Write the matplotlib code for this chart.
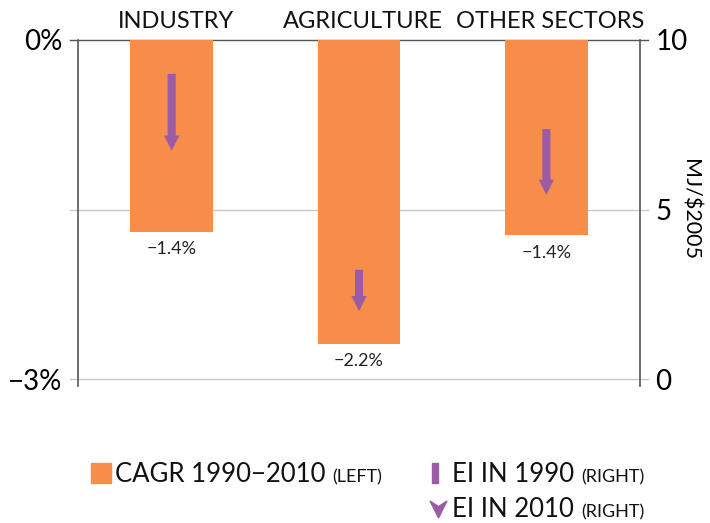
import matplotlib
matplotlib.use("Agg")
import matplotlib.pyplot as plt
from matplotlib.lines import Line2D
from matplotlib.patches import Rectangle
from matplotlib.path import Path

plt.rcParams['font.family'] = ['Lato', 'DejaVu Sans']

# ---- data ----
categories = ["INDUSTRY", "AGRICULTURE", "OTHER SECTORS"]
cagr_bar = [-1.70, -2.69, -1.73]          # bar lengths as drawn (left axis, %)
cagr_labels = ["\u22121.4%", "\u22122.2%", "\u22121.4%"]
ei_1990 = [9.0, 3.22, 7.37]               # right axis, MJ/$2005
ei_2010 = [6.73, 2.0, 5.43]
left_ticks = [-3, 0]
left_ticklabels = ["\u22123%", "0%"]
right_ticks = [0, 5, 10]

ORANGE = "#F68D4A"
PURPLE = "#9B5BA5"
DARK = "#555555"
LIGHT = "#C8C8C8"

W, H = 710, 523
fig = plt.figure(figsize=(W / 100, H / 100), dpi=100)

def fx(px):
    return px / W

def fy(py):
    return 1 - py / H

ax_l, ax_r, ax_t, ax_b = 78, 640, 40, 379
ax = fig.add_axes([fx(ax_l), fy(ax_b), fx(ax_r - ax_l), (ax_b - ax_t) / H])
ax2 = ax.twinx()

x = list(range(len(categories)))
ax.bar(x, cagr_bar, width=0.44, color=ORANGE, zorder=2)
ax.set_xlim(-0.5, 2.5)
ax.set_ylim(-3, 0)
ax2.set_ylim(0, 10)

for a in (ax, ax2):
    for s in a.spines.values():
        s.set_visible(False)
    a.set_xticks([])
    a.tick_params(axis='y', length=0)

ax.set_yticks(left_ticks)
ax.set_yticklabels(left_ticklabels, fontsize=20)
ax.tick_params(axis='y', pad=11)
ax2.set_yticks(right_ticks)
ax2.set_yticklabels([str(t) for t in right_ticks], fontsize=20)
ax2.tick_params(axis='y', pad=11)
ax2.set_ylabel("MJ/$2005", rotation=-90, fontsize=15.5, va='center', ha='center')
ax2.yaxis.set_label_coords((690 - ax_l) / (ax_r - ax_l), 0.5)

ext = 8 / (ax_r - ax_l)
# horizontal reference lines (extend as ticks on both sides)
for yv, col in [(0, DARK), (-3, LIGHT), (-1.5, LIGHT)]:
    ax.plot([-ext, 1 + ext], [yv, yv], transform=ax.get_yaxis_transform(),
            color=col, lw=1, clip_on=False, zorder=1)
# vertical spines
for xa in (0, 1):
    ax.add_line(Line2D([xa, xa], [-0.02, 1.0], transform=ax.transAxes,
                       color=DARK, lw=1.2, clip_on=False, zorder=3))

# value labels
for xi, v, lab in zip(x, cagr_bar, cagr_labels):
    ax.annotate(lab, (xi, v), xytext=(0, -12.5), textcoords='offset points',
                ha='center', va='center', fontsize=13, color='#222222')

# category labels above
for xi, c in zip(x, categories):
    ax.annotate(c, (xi, 1), xycoords=('data', 'axes fraction'),
                xytext=(3, 13), textcoords='offset points',
                ha='center', va='center', fontsize=17, color='#111111')

# arrows (EI 1990 -> EI 2010)
for xi, a0, a1 in zip(x, ei_1990, ei_2010):
    ax2.annotate("", xy=(xi, a1), xytext=(xi, a0),
                 arrowprops=dict(arrowstyle="simple,head_length=11,head_width=11,tail_width=5.8",
                                 mutation_scale=1, color=PURPLE, lw=0,
                                 shrinkA=0, shrinkB=0), zorder=4)

# ---- legend ----
fig.canvas.draw()
renderer = fig.canvas.get_renderer()

def mixed(x0, yc, big, small, bigsize=18.5, smallsize=13):
    t1 = fig.text(fx(x0), fy(yc), big, fontsize=bigsize, va='baseline', ha='left',
                  color='#111111')
    bb = t1.get_window_extent(renderer)
    fig.text(bb.x1 / W + fx(7), fy(yc), small, fontsize=smallsize, va='baseline',
             ha='left', color='#111111')

fig.add_artist(Rectangle((fx(91), fy(483)), fx(20), 20 / H, transform=fig.transFigure,
                         color=ORANGE))
mixed(115, 482, "CAGR 1990\u22122010", "(LEFT)")

fig.add_artist(Rectangle((fx(432), fy(483)), fx(6), 20 / H, transform=fig.transFigure,
                         color=PURPLE))
mixed(452, 482, "EI IN 1990", "(RIGHT)")

chev = Path([(-1, 1), (0, -1), (1, 1), (0, 0.35), (-1, 1)],
            [Path.MOVETO, Path.LINETO, Path.LINETO, Path.LINETO, Path.CLOSEPOLY])
fig.add_artist(Line2D([fx(438)], [fy(509)], transform=fig.transFigure, marker=chev,
                      markersize=12, color=PURPLE, lw=0))
mixed(452, 517, "EI IN 2010", "(RIGHT)")

fig.savefig("out.png", dpi=100)
